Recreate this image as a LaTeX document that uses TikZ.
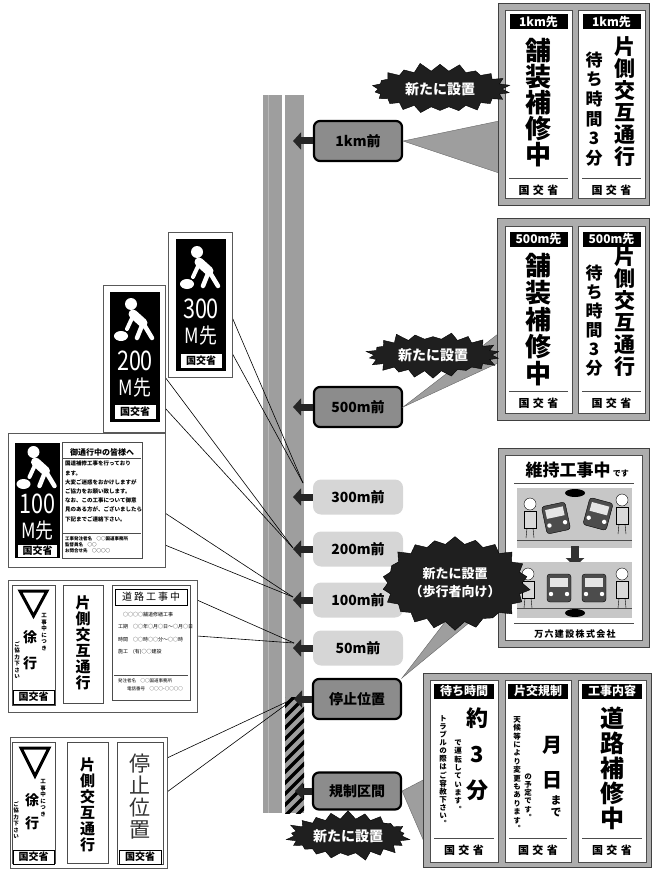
\documentclass[tikz,border=0pt]{standalone}
\usepackage{fontspec}
\newfontfamily\jp{Noto Sans CJK JP}
\newfontfamily\jpv[RawFeature=+vert]{Noto Sans CJK JP}
\usetikzlibrary{shapes.symbols,arrows.meta}

\newcommand\sz[2]{\fontsize{#1}{#2}\selectfont}
% stack the characters of #1 one below the other
\ExplSyntaxOn
\NewDocumentCommand\tate{m}{\vbox{\tl_map_inline:nn{#1}{\hbox to 1em{\hss ##1\hss}}}}
\ExplSyntaxOff

\begin{document}
\begin{tikzpicture}[x=1pt, y=-1pt,
  roadlbl/.style={rounded corners=6pt, fill=black!45, draw=black, line width=2.2pt, minimum width=88pt, minimum height=40pt, inner sep=0pt, font=\jp\bfseries\sz{14}{14}},
  softlbl/.style={rounded corners=8pt, fill=black!16, minimum width=90pt, minimum height=35pt, inner sep=0pt, font=\jp\bfseries\sz{14}{14}},
  toroad/.style={-{Triangle[width=17pt,length=8pt]}, line width=7pt, black!85},
  pointer/.style={draw=black, line width=0.6pt},
  tail/.style={fill=black!38, draw=black!60, line width=0.4pt},
  burst/.style={starburst, starburst points=22, starburst point height=9pt, minimum width=142pt, minimum height=54pt, fill=black!88, draw=black, text=white, align=center, inner sep=2pt, font=\jp\bfseries\sz{14}{18}},
  board/.style={fill=black!32, draw=black!75, line width=0.8pt},
  panel/.style={fill=white, draw=black!70, line width=0.6pt},
  head/.style={fill=black, text=white, inner sep=0pt, minimum width=58pt, minimum height=15pt, font=\jp\bfseries\sz{12}{12}},
  column/.style 2 args={inner sep=0pt, font=\jpv\bfseries\sz{#1}{#2}},
  ministry/.style={inner sep=0pt, font=\jp\bfseries\sz{11}{11}\addfontfeatures{LetterSpace=30}},
  signframe/.style={fill=white, draw=black!65, line width=0.8pt},
  kbox/.style={fill=white, draw=black, line width=0.6pt, inner sep=0pt, minimum width=42pt, minimum height=15pt, font=\jp\bfseries\sz{10}{10}},
  signno/.style={text=white, inner sep=0pt, font=\jp\sz{27}{27}},
  tiny/.style={inner sep=0pt, align=left, font=\jp\bfseries\sz{5.5}{9.2}},
  pics/worker/.style={code={
    \fill[white] (-4,-16) circle (6pt);
    \draw[white, line width=9pt, line cap=round] (-2,-6) -- (8,3);
    \draw[white, line width=4pt, line cap=round] (-2,-4) -- (-8,9);
    \draw[white, line width=4.5pt, line cap=round] (8,3) -- (2,18) (8,3) -- (17,18);
    \fill[white] (-14,16) ellipse (7pt and 5pt);
  }},
  pics/car/.style={code={
    \draw[fill=black!70, rounded corners=3pt] (-12,-14) rectangle (12,14);
    \fill[black!10] (-9,-10) rectangle (9,-1);
    \fill[white] (-8,6) circle (2.2pt) (8,6) circle (2.2pt);
  }},
  pics/walker/.style={code={
    \draw[fill=white] (0,-12) circle (6pt);
    \draw[fill=black!15] (-6,-5) rectangle (6,12);
    \draw (-3,12) -- (-4,22) (3,12) -- (4,22);
  }}
]
\useasboundingbox (0,0) rectangle (652,869);

% the road
\fill[black!38] (263,95) rectangle (304,813);
\fill[white] (282,95) rectangle (285,813);
\draw[black!28, line width=0.8pt] (268,95) -- (268,813);
\begin{scope}
  \clip (285,697) rectangle (304,813);
  \foreach \k in {0,...,13} \draw[line width=3.5pt] (283,697+\k*11) -- (307,673+\k*11);
\end{scope}

% where the pointers meet the road
\coordinate (t300) at (303,483);
\coordinate (t200) at (293,548);
\coordinate (t100) at (293,597);
\coordinate (t50) at (294,643);
\coordinate (tstop) at (295,698);
\coordinate (p300a) at (232,317);
\coordinate (p300b) at (232,353);
\coordinate (p200a) at (165,377);
\coordinate (p200b) at (165,408);
\coordinate (p100a) at (165,513);
\coordinate (p100b) at (165,545);
\coordinate (p50a) at (197,600);
\coordinate (p50b) at (197,636);
\coordinate (pstopa) at (167,758);
\coordinate (pstopb) at (167,792);
\path [pointer] (p300a) edge (t300) (p300b) edge (t300);
\path [pointer] (p200a) edge (t200) (p200b) edge (t200);
\path [pointer] (p100a) edge (t100) (p100b) edge (t100);
\path [pointer] (p50a) edge (t50) (p50b) edge (t50);
\path [pointer] (pstopa) edge (tstop) (pstopb) edge (tstop);

% distance labels beside the road
\node[roadlbl] (km1) at (358,141) {1km前};
\node[roadlbl] (m500) at (358,407) {500m前};
\node[softlbl] (m300) at (358,497) {300m前};
\node[softlbl] (m200) at (358,549) {200m前};
\node[softlbl] (m100) at (358,600) {100m前};
\node[softlbl] (m50) at (358,648) {50m前};
\node[roadlbl] (stop) at (357,699) {停止位置};
\node[roadlbl, minimum height=37pt] (zone) at (357,791) {規制区間};
\coordinate (a1) at (293,141);
\coordinate (a2) at (293,407);
\coordinate (a3) at (293,497);
\coordinate (a4) at (293,549);
\coordinate (a5) at (293,600);
\coordinate (a6) at (293,648);
\coordinate (a7) at (294,699);
\coordinate (a8) at (295,791);
\path [toroad] (km1) edge (a1);
\path [toroad] (m500) edge (a2);
\path [toroad] (m300) edge (a3);
\path [toroad] (m200) edge (a4);
\path [toroad] (m100) edge (a5);
\path [toroad] (m50) edge (a6);
\path [toroad] (stop) edge (a7);
\path [toroad] (zone) edge (a8);

% callout tails
\fill[tail] (km1.east) -- (499,121) -- (499,173) -- cycle;
\fill[tail] (m500.east) -- (498,334) -- (498,363) -- cycle;
\fill[tail] (stop.north east) -- (445,622) -- (470,622) -- cycle;
\fill[tail] (zone.east) -- (425,779) -- (425,844) -- cycle;

% 1km board
\node[board, minimum width=151pt, minimum height=202pt] (b1) at (573.5,104) {};
\node[panel, minimum width=67pt, minimum height=188pt] (b1l) at (538.5,104) {};
\node[panel, minimum width=67pt, minimum height=188pt] (b1r) at (611.5,104) {};
\node[head] (b1lh) at (538.5,22) {1km先};
\node[head] (b1rh) at (611.5,22) {1km先};
\node[column={26}{26}] (b1lt) at (538.5,103) {\tate{舗装補修中}};
\node[column={21}{22}] (b1rt) at (625,102) {\tate{片側交互通行}};
\node[column={17}{19.7}] (b1rw) at (594,109) {\tate{待ち時間3分}};
\draw[black!70, line width=0.8pt] (509,178) -- (568,178) (582,178) -- (641,178);
\node[ministry] (b1lm) at (538.5,190) {国交省};
\node[ministry] (b1rm) at (611.5,190) {国交省};

% 500m board
\node[board, minimum width=152pt, minimum height=202pt] (b2) at (573,319) {};
\node[panel, minimum width=67pt, minimum height=187pt] (b2l) at (538.5,319.5) {};
\node[panel, minimum width=67pt, minimum height=187pt] (b2r) at (611.5,319.5) {};
\node[head] (b2lh) at (538.5,239) {500m先};
\node[head] (b2rh) at (611.5,239) {500m先};
\node[column={26}{27}] (b2lt) at (538.5,320) {\tate{舗装補修中}};
\node[column={21}{22}] (b2rt) at (625,312) {\tate{片側交互通行}};
\node[column={17}{19}] (b2rw) at (594,321) {\tate{待ち時間3分}};
\draw[black!70, line width=0.8pt] (509,391) -- (568,391) (582,391) -- (641,391);
\node[ministry] (b2lm) at (538.5,403) {国交省};
\node[ministry] (b2rm) at (611.5,403) {国交省};

% board for pedestrians
\node[board, minimum width=151pt, minimum height=199pt] (b3) at (573.5,547.5) {};
\node[panel, minimum width=137pt, minimum height=185pt] (b3in) at (573.5,547.5) {};
\node[inner sep=0pt, font=\jp\bfseries\sz{17}{17}] (b3t) at (568,470) {維持工事中};
\node[anchor=base west, inner sep=0pt, font=\jp\bfseries\sz{8}{8}] (b3d) at ([xshift=2pt]b3t.base east) {です};
\draw[black!70, line width=0.8pt] (514,483) -- (634,483);
\fill[black!22] (517,488) rectangle (632,548);
\draw[black!70] (517,540) -- (632,540);
\pic[rotate=12] at (556,518) {car};
\pic[rotate=-15] at (598,514) {car};
\pic at (530,516) {walker};
\pic at (622,512) {walker};
\fill[black] (575,493) ellipse (10pt and 4pt);
\draw[-{Triangle[width=18pt,length=9pt]}, line width=8pt, black!80] (575,546) -- (575,567);
\fill[black!22] (517,562) rectangle (632,618);
\draw[black!70] (517,608) -- (632,608);
\pic at (559,588) {car};
\pic at (594,588) {car};
\pic at (528,586) {walker};
\pic at (622,586) {walker};
\fill[black] (575,613) ellipse (10pt and 4pt);
\draw[black!70, line width=0.8pt] (514,623) -- (634,623);
\node[inner sep=0pt, font=\jp\bfseries\sz{9}{9}\addfontfeatures{LetterSpace=15}] (b3c) at (575,634) {万六建設株式会社};

% board at the closed section
\node[board, minimum width=228pt, minimum height=194pt] (b4) at (537,770) {};
\node[panel, minimum width=68pt, minimum height=182pt] (b4a) at (464,771) {};
\node[panel, minimum width=66pt, minimum height=182pt] (b4b) at (538,771) {};
\node[panel, minimum width=68pt, minimum height=182pt] (b4c) at (612,771) {};
\node[head, minimum width=60pt] (b4ah) at (464,691) {待ち時間};
\node[head, minimum width=60pt] (b4bh) at (538,691) {片交規制};
\node[head, minimum width=60pt] (b4ch) at (612,691) {工事内容};
\node[column={22}{36}] (b4at) at (477,754) {\tate{約3分}};
\node[column={7.5}{8.3}] (b4a1) at (458,776) {\tate{で運転しています。}};
\node[column={7.5}{8.1}] (b4a2) at (443,771) {\tate{トラブルの際はご容赦下さい。}};
\node[column={20}{20}] (b4m) at (552,745) {月};
\node[column={20}{20}] (b4d) at (552,780) {日};
\node[column={11}{12}] (b4u) at (556,806) {\tate{まで}};
\node[column={7.5}{8.3}] (b4b1) at (528,797) {\tate{の予定です。}};
\node[column={7.5}{8.4}] (b4b2) at (517,774) {\tate{天候等により変更もあります。}};
\node[column={24}{25}] (b4ct) at (612,768) {\tate{道路補修中}};
\draw[black!70, line width=0.8pt] (434,838) -- (494,838) (509,838) -- (567,838) (582,838) -- (642,838);
\node[ministry] (b4am) at (464,850) {国交省};
\node[ministry] (b4bm) at (538,850) {国交省};
\node[ministry] (b4cm) at (612,850) {国交省};

% 300 M sign
\node[signframe, minimum width=64pt, minimum height=145pt] (s300) at (200,304.5) {};
\node[fill=black, minimum width=50pt, minimum height=132pt] (s300in) at (201,305) {};
\pic at (201,268) {worker};
\node[signno] (s300n) at (201,309) {\scalebox{0.8}[1]{300}};
\node[signno, font=\jp\sz{21}{21}] (s300m) at (201,336) {\scalebox{0.85}[1]{M先}};
\node[kbox] (s300k) at (201,361) {国交省};

% 200 M sign
\node[signframe, minimum width=62pt, minimum height=147pt] (s200) at (134,358.5) {};
\node[fill=black, minimum width=50pt, minimum height=130pt] (s200in) at (135,357) {};
\pic at (135,320) {worker};
\node[signno] (s200n) at (135,361) {\scalebox{0.8}[1]{200}};
\node[signno, font=\jp\sz{21}{21}] (s200m) at (135,388) {\scalebox{0.85}[1]{M先}};
\node[kbox] (s200k) at (135,412) {国交省};

% 100 M sign with notice
\node[signframe, minimum width=157pt, minimum height=134pt] (s100) at (86.5,500) {};
\node[fill=black, minimum width=45pt, minimum height=115pt] (s100in) at (37.5,500.5) {};
\pic at (37.5,468) {worker};
\node[signno] (s100n) at (37.5,504) {\scalebox{0.8}[1]{100}};
\node[signno, font=\jp\sz{21}{21}] (s100m) at (37.5,531) {\scalebox{0.85}[1]{M先}};
\node[kbox, minimum width=40pt, minimum height=13pt] (s100k) at (37.5,551) {国交省};
\node[panel, minimum width=80pt, minimum height=116pt] (notice) at (102,500) {};
\node[inner sep=0pt, font=\jp\bfseries\sz{8}{8}] (noticeh) at (102,452) {御通行中の皆様へ};
\draw[black!70] (63,458) -- (141,458) (63,533) -- (141,533);
\node[tiny, anchor=north west] (noticet) at (65,461) {国道補修工事を行っており\\ます。\\大変ご迷惑をおかけしますが\\ご協力をお願い致します。\\なお、この工事について御意\\見のある方が、ございましたら\\下記までご連絡下さい。};
\node[tiny, anchor=north west, font=\jp\bfseries\sz{4.5}{6}] (noticef) at (65,536) {工事発注者名\quad ○○国道事務所\\監督員名\quad ○○\\お問合せ先\quad ○○○○};

% first group of small signs
\node[signframe, minimum width=189pt, minimum height=132pt] (g1) at (102.5,646) {};
\node[panel, minimum width=43pt, minimum height=120pt] (g1a) at (33.5,645) {};
\draw[line width=3pt] (20,591) -- (47,591) -- (33.5,616) -- cycle;
\node[column={14}{26}] (g1at) at (30,650) {\tate{徐行}};
\node[column={5.5}{6.5}] (g1a1) at (44,632) {\tate{工事中につき}};
\node[column={5.5}{6.5}] (g1a2) at (17,660) {\tate{ご協力下さい}};
\node[kbox, minimum width=41pt, minimum height=14pt] (g1ak) at (33.5,697) {国交省};
\node[panel, minimum width=40pt, minimum height=118pt] (g1b) at (83,644) {};
\node[column={15}{16}] (g1bt) at (83,643) {\tate{片側交互通行}};
\node[panel, minimum width=78pt, minimum height=115pt] (g1c) at (151,642.5) {};
\node[draw, line width=0.6pt, inner sep=0pt, minimum width=72pt, minimum height=16pt, font=\jp\sz{10}{10}\addfontfeatures{LetterSpace=20}] (g1ch) at (151,597) {道路工事中};
\node[tiny, anchor=north west, font=\jp\sz{5}{12.5}] (g1ct) at (118,612) {\quad ○○○○舗道修繕工事\\工期\quad ○○年○月○日～○月○日\\時間\quad ○○時○○分～○○時\\施工\quad (有)○○建設};
\draw[black!70] (114,675) -- (188,675);
\node[tiny, anchor=north west, font=\jp\sz{4.5}{8}] (g1cf) at (118,678) {発注者名\quad ○○国道事務所\\\quad\quad 電話番号\quad ○○○-○○○○};

% second group of small signs
\node[signframe, minimum width=157pt, minimum height=131pt] (g2) at (88.5,802.5) {};
\node[panel, minimum width=43pt, minimum height=121pt] (g2a) at (33.5,803) {};
\draw[line width=3pt] (21,748) -- (49,748) -- (35,776) -- cycle;
\node[column={14}{23}] (g2at) at (32,812) {\tate{徐行}};
\node[column={5.5}{6.5}] (g2a1) at (43,798) {\tate{工事中につき}};
\node[column={5.5}{6.5}] (g2a2) at (16,820) {\tate{ご協力下さい}};
\node[kbox, minimum width=41pt, minimum height=14pt] (g2ak) at (33.5,857) {国交省};
\node[panel, minimum width=41pt, minimum height=121pt] (g2b) at (87.5,802.5) {};
\node[column={15}{16}] (g2bt) at (87.5,805) {\tate{片側交互通行}};
\node[panel, minimum width=46pt, minimum height=122pt] (g2c) at (140,803) {};
\node[inner sep=0pt, text=black!80, font=\jpv\sz{21}{22}] (g2ct) at (140,797) {\tate{停止位置}};
\node[kbox, minimum width=42pt, minimum height=14pt] (g2ck) at (140,857) {国交省};

% new signs
\node[burst, random starburst=11] (new1) at (440,89) {新たに設置};
\node[burst, random starburst=23, minimum width=136pt, minimum height=50pt] (new2) at (433,355) {新たに設置};
\node[burst, random starburst=37, minimum width=112pt, minimum height=96pt, font=\jp\bfseries\sz{13}{18}] (new3) at (455,583) {新たに設置\\（歩行者向け）};
\node[burst, random starburst=53, minimum width=126pt, minimum height=52pt] (new4) at (348,836) {新たに設置};
\end{tikzpicture}
\end{document}
